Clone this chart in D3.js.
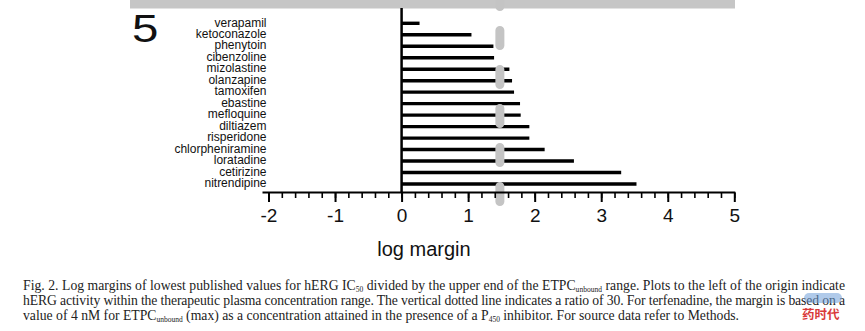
<!DOCTYPE html>
<html>
<head>
<meta charset="utf-8">
<script src="https://cdn.jsdelivr.net/npm/d3@7/dist/d3.min.js"></script>
<style>
  html, body { margin: 0; padding: 0; background: #fff; }
  svg { display: block; }
</style>
</head>
<body>
<div id="chart"></div>
<script>
// drug names, top to bottom
var drugs = ["verapamil", "ketoconazole", "phenytoin", "cibenzoline", "mizolastine",
  "olanzapine", "tamoxifen", "ebastine", "mefloquine", "diltiazem", "risperidone",
  "chlorpheniramine", "loratadine", "cetirizine", "nitrendipine"];
// log margin
var logMargins = [0.27, 1.05, 1.38, 1.39, 1.62, 1.66, 1.69, 1.78, 1.79, 1.92, 1.92,
  2.15, 2.59, 3.30, 3.53];
var xTicks = [-2, -1, 0, 1, 2, 3, 4, 5];
var ratioLine = Math.log10(30);   // dotted line, ratio of 30
var panelLabel = "5";
var axisTitle = "log margin";

var width = 865, height = 331;
var sans = "Arial, 'Liberation Sans', Helvetica, sans-serif";
var serif = "'Times New Roman', 'Liberation Serif', Times, serif";

var svg = d3.select("#chart").append("svg")
  .attr("width", width)
  .attr("height", height);

var x = d3.scaleLinear().domain([-2, 5]).range([268.5, 734.3]);
var y = d3.scalePoint().domain(drugs).range([23.3, 184]);
var axisY = 192.5;

var data = drugs.map(function(d, i) { return {name: d, value: logMargins[i]}; });

// grey strip along the top
svg.append("rect")
  .attr("x", 130).attr("y", 0)
  .attr("width", 605).attr("height", 8.5)
  .style("fill", "#c6c6c6");

// big panel number
svg.append("text")
  .attr("transform", "translate(132,42) scale(1.25,1)")
  .style("font", "38px " + sans)
  .style("fill", "#111")
  .text(panelLabel);

// bars
svg.selectAll(".bar")
  .data(data)
  .enter().append("line")
  .attr("class", "bar")
  .attr("x1", x(0))
  .attr("x2", function(d) { return x(d.value); })
  .attr("y1", function(d) { return y(d.name); })
  .attr("y2", function(d) { return y(d.name); })
  .style("stroke", "#000")
  .style("stroke-width", 3.4);

// drug labels
svg.selectAll(".label")
  .data(data)
  .enter().append("text")
  .attr("class", "label")
  .attr("x", 266.5)
  .attr("y", function(d) { return y(d.name) - 1; })
  .attr("dy", "0.35em")
  .attr("text-anchor", "end")
  .style("font", "12px " + sans)
  .style("fill", "#111")
  .text(function(d) { return d.name; });

// vertical axis at zero
svg.append("line")
  .attr("x1", x(0)).attr("x2", x(0))
  .attr("y1", 8).attr("y2", axisY)
  .style("stroke", "#000")
  .style("stroke-width", 2.5);

// dotted reference line (ratio 30)
svg.append("line")
  .attr("x1", x(ratioLine)).attr("x2", x(ratioLine))
  .attr("y1", -8.5).attr("y2", 203)
  .style("stroke", "#c4c4c4")
  .style("stroke-width", 9)
  .style("stroke-linecap", "round")
  .style("stroke-dasharray", "15,24");

// minor ticks
var minor = svg.append("g")
  .attr("transform", "translate(0," + axisY + ")")
  .call(d3.axisBottom(x)
    .tickValues(d3.range(-2, 5.001, 0.2))
    .tickSize(5.5)
    .tickSizeOuter(0)
    .tickFormat(""));
minor.select(".domain").remove();
minor.selectAll(".tick line").style("stroke-width", 1.6).style("stroke", "#000");

// major ticks + labels
var xAxis = svg.append("g")
  .attr("transform", "translate(0," + axisY + ")")
  .call(d3.axisBottom(x)
    .tickValues(xTicks)
    .tickSize(9.5)
    .tickSizeOuter(0)
    .tickPadding(7)
    .tickFormat(function(d) { return String(d); }));
xAxis.select(".domain").remove();
xAxis.selectAll(".tick line").style("stroke-width", 2).style("stroke", "#000");
xAxis.selectAll(".tick text")
  .style("font", "19px " + sans)
  .style("fill", "#111");

svg.append("line")
  .attr("x1", x(-2) - 6).attr("x2", x(5) + 1)
  .attr("y1", axisY).attr("y2", axisY)
  .style("stroke", "#000")
  .style("stroke-width", 2.2);

// axis title
svg.append("text")
  .attr("x", 424).attr("y", 256)
  .attr("text-anchor", "middle")
  .style("font", "20px " + sans)
  .style("fill", "#111")
  .text(axisTitle);

// caption, three lines with subscripts
var caption = [
  {y: 289.5, justify: 822, parts: [
    ["Fig. 2.  Log margins of lowest published values for hERG IC"], ["50", 1],
    [" divided by the upper end of the ETPC"], ["unbound", 1],
    [" range. Plots to the left of the origin indicate"]]},
  {y: 304.5, justify: 822, parts: [
    ["hERG activity within the therapeutic plasma concentration range. The vertical dotted line indicates a ratio of 30. For terfenadine, the margin is based on a"]]},
  {y: 319.5, justify: null, parts: [
    ["value of 4 nM for ETPC"], ["unbound", 1], [" (max) as a concentration attained in the presence of a P"],
    ["450", 1], [" inhibitor. For source data refer to Methods."]]}
];

caption.forEach(function(line) {
  var t = svg.append("text")
    .attr("x", 23).attr("y", line.y)
    .style("font", "13.7px " + serif)
    .style("fill", "#222");
  if (line.justify) {
    t.attr("textLength", line.justify).attr("lengthAdjust", "spacing");
  }
  line.parts.forEach(function(p) {
    var s = t.append("tspan").text(p[0]);
    if (p[1]) {
      s.style("font-size", "7.5px").attr("dy", 2.5);
    } else if (t.selectAll("tspan").size() > 1) {
      s.attr("dy", -2.5);
    }
  });
});

// watermark logo bottom right
svg.append("rect")
  .attr("x", 804).attr("y", 293)
  .attr("width", 38).attr("height", 10).attr("rx", 5)
  .style("fill", "#6f9fd8").style("opacity", 0.55);
svg.append("text")
  .attr("x", 802).attr("y", 319)
  .style("font", "bold 12.5px 'Noto Sans CJK SC', sans-serif")
  .style("fill", "#d93a3a")
  .text("药时代");
</script>
</body>
</html>
